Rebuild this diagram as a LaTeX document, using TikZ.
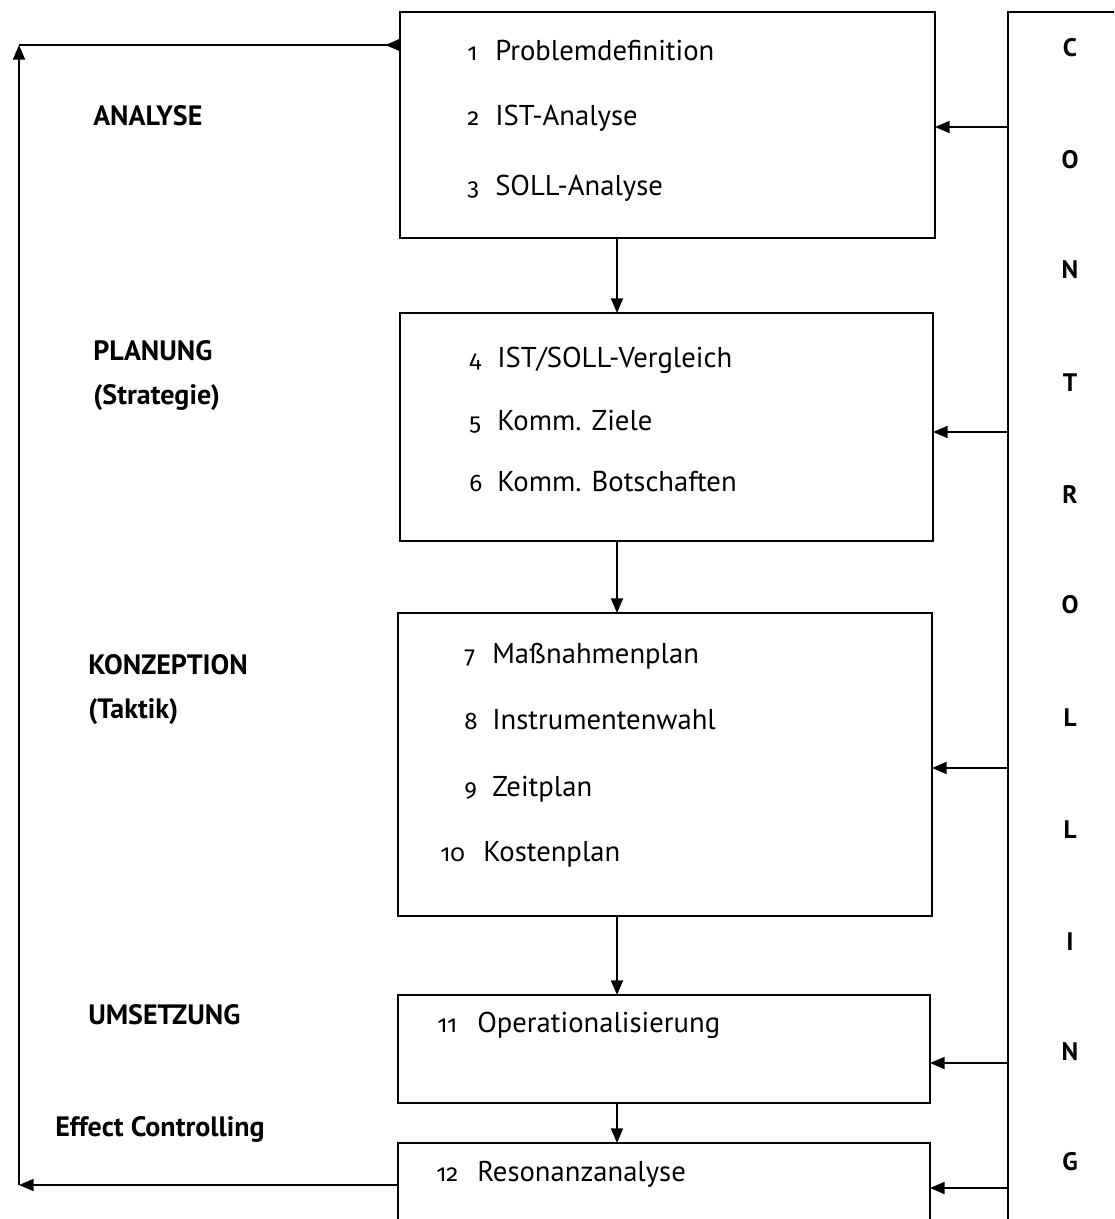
\documentclass[tikz,border=0pt]{standalone}
\usepackage{fontspec}
\setmainfont{PT Sans}
\newfontfamily\numfont[Numbers=OldStyle]{Fira Sans}
\usetikzlibrary{arrows.meta}
\begin{document}
\begin{tikzpicture}[x=0.75pt,y=-0.75pt,
  box/.style={draw, line width=1.4pt, inner sep=0pt, outer sep=0pt},
  arr/.style={line width=1.4pt, -{Triangle[length=11pt,width=9pt]}},
  rarr/.style={line width=1.4pt, -{Triangle[length=11pt,width=9pt,reversed]}},
  num/.style={anchor=base west, inner sep=0pt, font=\numfont\fontsize{18}{22}\selectfont},
  item/.style={anchor=base west, inner sep=0pt, font=\fontsize{21.5}{26}\selectfont},
  phase/.style={anchor=base west, inner sep=0pt, font=\fontsize{21}{25}\selectfont\bfseries},
  ctl/.style={inner sep=0pt, font=\fontsize{19}{23}\selectfont\bfseries}
]
\useasboundingbox (0,0) rectangle (1114,1219);
\clip (0,0) rectangle (1114,1219);

% boxes
\node[box, minimum width=401.25pt, minimum height=169.5pt] (b1) at (667.5,125) {};
\node[box, minimum width=399.75pt, minimum height=171pt] (b2) at (666.5,427) {};
\node[box, minimum width=400.5pt, minimum height=227.25pt] (b3) at (665,764.5) {};
\node[box, minimum width=399pt, minimum height=81pt] (b4) at (664,1049) {};
\node[box, minimum width=399pt, minimum height=87.75pt] (b5) at (664,1201.5) {};
\node[box, minimum width=99pt, minimum height=936pt] (ctrl) at (1074,636) {};

% controlling letters
\node[ctl] (c1) at (1070,48) {C};
\node[ctl] (c2) at (1070,160) {O};
\node[ctl] (c3) at (1070,270) {N};
\node[ctl] (c4) at (1070,383) {T};
\node[ctl] (c5) at (1070,495) {R};
\node[ctl] (c6) at (1070,605) {O};
\node[ctl] (c7) at (1070,718) {L};
\node[ctl] (c8) at (1070,830) {L};
\node[ctl] (c9) at (1070,942) {I};
\node[ctl] (c10) at (1070,1052) {N};
\node[ctl] (c11) at (1070,1162) {G};

% phase labels
\node[phase] (p1) at (93,126) {ANALYSE};
\node[phase] (p2) at (93,360) {PLANUNG};
\node[phase] (p2b) at (93,404) {(Strategie)};
\node[phase] (p3) at (88,674) {KONZEPTION};
\node[phase] (p3b) at (88,718) {(Taktik)};
\node[phase] (p4) at (88,1024) {UMSETZUNG};
\node[phase] (p5) at (55,1136) {Effect Controlling};

% items
\node[num] (n1) at (467,61) {1};   \node[item] (t1) at (495,61) {Problemdefinition};
\node[num] (n2) at (467,126) {2};  \node[item] (t2) at (495,126) {IST-Analyse};
\node[num] (n3) at (467,196) {3};  \node[item] (t3) at (495,196) {SOLL-Analyse};
\node[num] (n4) at (469,367) {4};  \node[item] (t4) at (497,367) {IST/SOLL-Vergleich};
\node[num] (n5) at (469,430) {5};  \node[item] (t5) at (497,430) {Komm. Ziele};
\node[num] (n6) at (469,491) {6};  \node[item] (t6) at (497,491) {Komm. Botschaften};
\node[num] (n7) at (464,663) {7};  \node[item] (t7) at (492,663) {Maßnahmenplan};
\node[num] (n8) at (464,729) {8};  \node[item] (t8) at (492,729) {Instrumentenwahl};
\node[num] (n9) at (464,796) {9};  \node[item] (t9) at (492,796) {Zeitplan};
\node[num] (n10) at (440,861) {10}; \node[item] (t10) at (483,861) {Kostenplan};
\node[num] (n11) at (437,1032) {11}; \node[item] (t11) at (477,1032) {Operationalisierung};
\node[num] (n12) at (436,1181) {12}; \node[item] (t12) at (477,1181) {Resonanzanalyse};

% vertical flow arrows
\coordinate (ax) at (617,0);
\draw[arr] (b1.south -| ax) -- (b2.north -| ax);
\draw[arr] (b2.south -| ax) -- (b3.north -| ax);
\draw[arr] (b3.south -| ax) -- (b4.north -| ax);
\draw[arr] (b4.south -| ax) -- (b5.north -| ax);

% controlling arrows
\coordinate (y1) at (0,127);
\coordinate (y2) at (0,432);
\coordinate (y3) at (0,768);
\coordinate (y4) at (0,1063);
\coordinate (y5) at (0,1188);
\draw[arr] (ctrl.west |- y1) -- (b1.east |- y1);
\draw[arr] (ctrl.west |- y2) -- (b2.east |- y2);
\draw[arr] (ctrl.west |- y3) -- (b3.east |- y3);
\draw[arr] (ctrl.west |- y4) -- (b4.east |- y4);
\draw[arr] (ctrl.west |- y5) -- (b5.east |- y5);

% feedback loop
\coordinate (fbtop) at (19,45);
\coordinate (fbbot) at (19,1185);
\draw[arr] (b5.west |- fbbot) -- (fbbot);
\draw[arr] (fbbot) -- (fbtop);
\draw[rarr] (fbtop) -- (b1.west |- fbtop);
\end{tikzpicture}
\end{document}
